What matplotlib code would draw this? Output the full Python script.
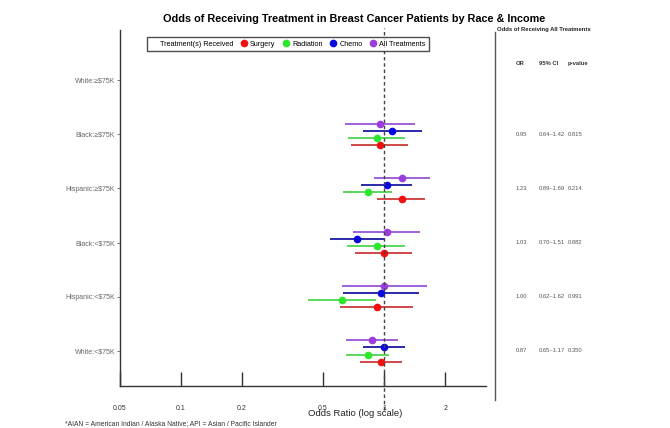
import numpy as np
import matplotlib
matplotlib.use("Agg")
import matplotlib.pyplot as plt
from matplotlib.lines import Line2D

plt.rcParams['font.family'] = ['Liberation Sans', 'DejaVu Sans']

nan = np.nan

# row labels, top to bottom
rows = ["White:\u2265$75K", "Black:\u2265$75K", "Hispanic:\u2265$75K",
        "Black:<$75K", "Hispanic:<$75K", "White:<$75K"]

treatments = ["Surgery", "Radiation", "Chemo", "All Treatments"]
colors = ["#f01010", "#2ee62e", "#0808e0", "#9a3ddc"]
line_colors = ["#d04848", "#5ad85a", "#2a2aa8", "#a060d8"]

# odds ratio and 95% CI per treatment (White >=75K is the reference)
surgery_or = [nan, 0.95, 1.22, 0.995, 0.92, 0.97]
surgery_lo = [nan, 0.69, 0.925, 0.72, 0.61, 0.76]
surgery_hi = [nan, 1.31, 1.60, 1.38, 1.39, 1.23]

radiation_or = [nan, 0.92, 0.83, 0.92, 0.62, 0.83]
radiation_lo = [nan, 0.667, 0.625, 0.66, 0.42, 0.65]
radiation_hi = [nan, 1.27, 1.09, 1.27, 0.91, 1.06]

chemo_or = [nan, 1.10, 1.03, 0.735, 0.97, 1.00]
chemo_lo = [nan, 0.79, 0.77, 0.54, 0.63, 0.79]
chemo_hi = [nan, 1.54, 1.38, 1.01, 1.48, 1.27]

all_or = [nan, 0.95, 1.23, 1.03, 1.00, 0.87]
all_lo = [nan, 0.64, 0.89, 0.70, 0.62, 0.65]
all_hi = [nan, 1.42, 1.69, 1.51, 1.62, 1.17]

# table on the right (all treatments)
table_or = ["", "0.95", "1.23", "1.03", "1.00", "0.87"]
table_ci = ["", "0.64\u20131.42", "0.89\u20131.69", "0.70\u20131.51", "0.62\u20131.62", "0.65\u20131.17"]
table_p = ["", "0.815", "0.214", "0.882", "0.991", "0.350"]

xticks = [0.05, 0.1, 0.2, 0.5, 1, 2]
xticklabels = ["0.05", "0.1", "0.2", "0.5", "1", "2"]

series = [
    (surgery_or, surgery_lo, surgery_hi, 0.194),
    (radiation_or, radiation_lo, radiation_hi, 0.065),
    (chemo_or, chemo_lo, chemo_hi, -0.065),
    (all_or, all_lo, all_hi, -0.194),
]

W, H = 670, 428
fig = plt.figure(figsize=(6.7, 4.28), dpi=100)
ax = fig.add_axes([120 / W, (H - 386) / H, 366 / W, 356 / H])

ypos = np.arange(len(rows))
for (orv, lo, hi, off), col, lcol, name in zip(series, colors, line_colors, treatments):
    y = ypos + off
    ax.hlines(y, lo, hi, color=lcol, lw=1.4, zorder=2)
    ax.plot(orv, y, 'o', color=col, ms=4.5, label=name, ls='none', zorder=3)

ax.set_xscale('log')
ax.set_xlim(0.05, 3.18)
ax.set_ylim(5.646, -0.922)

ax.axvline(1, ymin=-0.068, ymax=1.006, color='#444444', ls=(0, (2.5, 2)), lw=1.0, clip_on=False, zorder=4)

ax.set_xticks(xticks)
ax.set_xticklabels(xticklabels)
ax.xaxis.set_minor_locator(plt.NullLocator())
ax.tick_params(axis='x', direction='in', length=10, width=1, pad=14, labelsize=5, colors='#333333')
ax.set_yticks(ypos)
ax.set_yticklabels(rows)
ax.tick_params(axis='y', direction='out', length=2, width=0.6, pad=1.5, labelsize=5, colors='#666666')

for s in ['top', 'right']:
    ax.spines[s].set_visible(False)
ax.spines['left'].set_color('#333333')
ax.spines['bottom'].set_color('#333333')
ax.spines['left'].set_linewidth(1.0)
ax.spines['bottom'].set_linewidth(1.0)

fig.text(355 / W, 1 - 413 / H, "Odds Ratio (log scale)", ha='center', va='center', fontsize=6.8, color='#222222')

fig.text(354 / W, 1 - 19 / H, "Odds of Receiving Treatment in Breast Cancer Patients by Race & Income",
         ha='center', va='center', fontsize=7.8, fontweight='bold')

# legend
handles = [Line2D([], [], ls='none', marker=None)]
labels = ["Treatment(s) Received"]
for col, name in zip(colors, treatments):
    handles.append(Line2D([], [], ls='none', marker='o', color=col, ms=4.5))
    labels.append(name)
leg = fig.legend(handles, labels, loc='center', bbox_to_anchor=(288 / W, 1 - 44 / H), ncol=5,
                 fontsize=5.2, frameon=True, fancybox=False, edgecolor='#222222',
                 handlelength=0.8, handletextpad=0.5, columnspacing=1.0, borderpad=0.5)
leg.get_frame().set_linewidth(1.0)

# right-hand table
fig.add_artist(Line2D([495 / W, 495 / W], [1 - 32 / H, 1 - 400 / H], color='#555555', lw=1.0))
fig.text(497 / W, 1 - 30 / H, "Odds of Receiving All Treatments", ha='left', va='center',
         fontsize=4.2, fontweight='bold', color='#222222')
hy = 1 - 65 / H
fig.text(516 / W, hy, "OR", ha='left', va='baseline', fontsize=4.2, fontweight='bold', color='#333333')
fig.text(539 / W, hy, "95% CI", ha='left', va='baseline', fontsize=4.2, fontweight='bold', color='#333333')
fig.text(568 / W, hy, "p-value", ha='left', va='baseline', fontsize=4.2, fontweight='bold', color='#333333')

for i in range(len(rows)):
    yy = ax.transData.transform((1, ypos[i]))[1] / H - 1.5 / H
    fig.text(516 / W, yy, table_or[i], ha='left', va='baseline', fontsize=4.2, color='#555555')
    fig.text(539 / W, yy, table_ci[i], ha='left', va='baseline', fontsize=4.2, color='#555555')
    fig.text(568 / W, yy, table_p[i], ha='left', va='baseline', fontsize=4.2, color='#555555')

fig.text(65 / W, 1 - 424 / H, "*AIAN = American Indian / Alaska Native; API = Asian / Pacific Islander",
         ha='left', va='center', fontsize=4.9, color='#333333')

fig.savefig("out.png", dpi=100)
